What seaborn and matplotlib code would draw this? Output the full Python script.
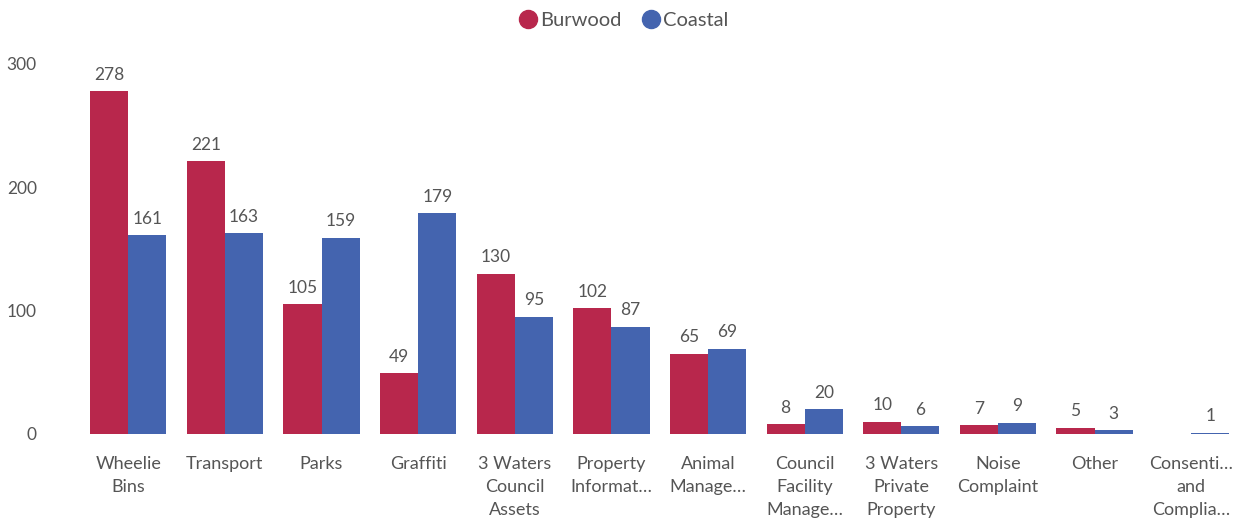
import matplotlib
matplotlib.use("Agg")
import matplotlib.pyplot as plt
import seaborn as sns
import pandas as pd
from matplotlib.lines import Line2D

categories = ["Wheelie\nBins", "Transport", "Parks", "Graffiti", "3 Waters\nCouncil\nAssets",
              "Property\nInformat\u2026", "Animal\nManage\u2026", "Council\nFacility\nManage\u2026",
              "3 Waters\nPrivate\nProperty", "Noise\nComplaint", "Other", "Consenti\u2026\nand\nComplia\u2026"]
burwood = [278, 221, 105, 49, 130, 102, 65, 8, 10, 7, 5, 0]
coastal = [161, 163, 159, 179, 95, 87, 69, 20, 6, 9, 3, 1]
series = ["Burwood", "Coastal"]
colors = ["#B8274C", "#4464AF"]
yticks = [0, 100, 200, 300]

sns.set_theme(style="white")
plt.rcParams["font.family"] = ["Lato", "DejaVu Sans"]
text_color = "#555555"

df = pd.DataFrame({
    "category": categories * 2,
    "series": [series[0]] * len(categories) + [series[1]] * len(categories),
    "value": burwood + coastal,
})

fig = plt.figure(figsize=(12.42, 5.24), dpi=100)
ax = fig.add_axes([0.0644, 0.172, 0.9336, 0.706])
sns.barplot(data=df, x="category", y="value", hue="series", palette=colors,
            width=0.79, saturation=1, ax=ax, legend=False, errorbar=None, linewidth=0)

for cont, vals in zip(ax.containers, [burwood, coastal]):
    ax.bar_label(cont, labels=[str(v) if v else "" for v in vals], padding=6,
                 fontsize=12.5, color=text_color)

ax.set_ylim(0, 300)
ax.set_xlim(-0.5, len(categories) - 0.5)
ax.set_yticks(yticks)
ax.set_xlabel("")
ax.set_ylabel("")
for s in ax.spines.values():
    s.set_visible(False)
ax.tick_params(axis="y", length=0, pad=31, labelsize=12.5, labelcolor=text_color)
ax.tick_params(axis="x", length=0, pad=16, labelsize=13, labelcolor=text_color)
for lbl in ax.get_xticklabels():
    lbl.set_linespacing(1.55)

handles = [Line2D([], [], marker="o", linestyle="", markersize=13, color=c) for c in colors]
fig.legend(handles, series, loc="upper center", bbox_to_anchor=(0.5, 1.012), ncol=2,
           frameon=False, fontsize=14.5, handletextpad=-0.15, columnspacing=0.7,
           handlelength=1.5, labelcolor=text_color)

fig.savefig("out.png", dpi=100)
